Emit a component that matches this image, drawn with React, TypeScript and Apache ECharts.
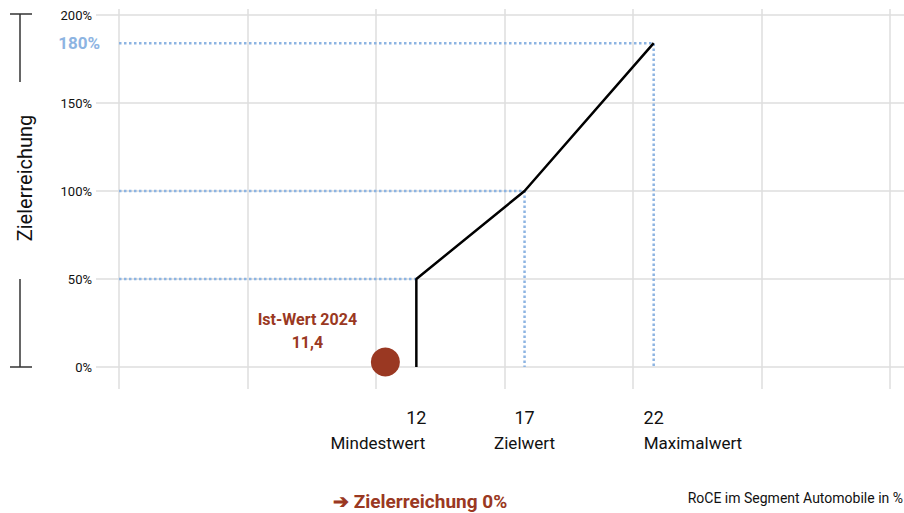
import React, { useEffect, useRef } from "react";
import * as echarts from "echarts";

// Schematic x-axis positions (grid columns 0..6) of the threshold marks
const thresholdValues = ["12", "17", "22"];
const thresholdNames = ["Mindestwert", "Zielwert", "Maximalwert"];
const thresholdPos = [2.314, 3.156, 4.161];
// achievement levels as plotted in the picture
const thresholdAchievement = [50, 100, 184];
const maxLabel = "180%";
const istValue = "11,4";
const istYear = "2024";
const istPos = 2.073;
const istAchievement = 0;
const yTicks = [0, 50, 100, 150, 200];

const FONT = "Roboto, 'Noto Sans', sans-serif";
const RED = "#9a3822";
const BLUE = "#8db4e2";
const GRID = "#dedede";

export default function App() {
  const ref = useRef<HTMLDivElement>(null);
  useEffect(() => {
    if (!ref.current) return;
    const chart = echarts.init(ref.current, undefined, { renderer: "svg" });

    const curve = [
      [thresholdPos[0], 0],
      ...thresholdPos.map((p, i) => [p, thresholdAchievement[i]]),
    ];
    const dotted = thresholdPos.map((p, i) => {
      const pts: any[] = [
        [0, thresholdAchievement[i]],
        [p, thresholdAchievement[i]],
      ];
      if (i > 0) pts.push([p, 0]);
      return {
        type: "line",
        xAxisIndex: 0,
        yAxisIndex: 0,
        data: pts,
        symbol: "none",
        silent: true,
        lineStyle: { color: BLUE, width: 2.5, type: [2.5, 2.5] },
        z: 2,
      };
    });

    const wordAlign = ["right", "center", "left"];
    const wordOffset = [9, 0, -10];

    chart.setOption({
      animation: false,
      grid: [
        { left: 119, right: 14, top: 15, height: 352 },
        { left: 119, right: 14, top: 9, height: 380 },
      ],
      xAxis: [
        {
          gridIndex: 0,
          type: "value",
          min: 0,
          max: 6,
          interval: 1,
          axisLine: { show: false },
          axisTick: { show: false },
          axisLabel: { show: false },
          splitLine: { show: false },
        },
        {
          gridIndex: 1,
          type: "value",
          min: 0,
          max: 6,
          interval: 1,
          axisLine: { show: false },
          axisTick: { show: false },
          axisLabel: { show: false },
          splitLine: { show: true, lineStyle: { color: GRID, width: 1.5 } },
        },
      ],
      yAxis: [
        {
          gridIndex: 0,
          type: "value",
          min: yTicks[0],
          max: yTicks[yTicks.length - 1],
          interval: 50,
          axisLine: { show: false },
          axisTick: { show: true, length: 23, lineStyle: { color: GRID, width: 1.5 } },
          axisLabel: {
            margin: 27,
            formatter: "{value}%",
            color: "#111",
            fontFamily: FONT,
            fontSize: 13,
          },
          splitLine: { show: true, lineStyle: { color: GRID, width: 1.5 } },
        },
        {
          gridIndex: 0,
          type: "value",
          position: "right",
          min: yTicks[0],
          max: yTicks[yTicks.length - 1],
          interval: 50,
          axisLine: { show: false },
          axisTick: { show: true, length: 14, lineStyle: { color: GRID, width: 1.5 } },
          axisLabel: { show: false },
          splitLine: { show: false },
        },
        {
          gridIndex: 1,
          type: "value",
          min: 0,
          max: 1,
          show: false,
          splitLine: { show: false },
        },
      ],
      series: [
        ...dotted,
        {
          type: "scatter",
          xAxisIndex: 0,
          yAxisIndex: 0,
          data: [[0, thresholdAchievement[2]]],
          symbolSize: 0,
          silent: true,
          clip: false,
          itemStyle: { opacity: 1 },
          label: {
            show: true,
            position: "left",
            distance: 19,
            formatter: () => maxLabel,
            color: BLUE,
            fontFamily: FONT,
            fontWeight: "bold",
            fontSize: 17,
          },
        },
        {
          type: "line",
          xAxisIndex: 0,
          yAxisIndex: 0,
          data: curve,
          symbol: "none",
          silent: true,
          lineStyle: { color: "#000", width: 2.5 },
          z: 3,
        },
        {
          type: "scatter",
          xAxisIndex: 0,
          yAxisIndex: 0,
          data: [[istPos, istAchievement]],
          symbol: "circle",
          symbolSize: 29,
          symbolOffset: [0, -5],
          clip: false,
          itemStyle: { color: RED, opacity: 1 },
          label: {
            show: true,
            position: "top",
            distance: 0,
            offset: [-78, 6],
            formatter: () => `Ist-Wert ${istYear}\n${istValue}`,
            color: RED,
            fontFamily: FONT,
            fontWeight: "bold",
            fontSize: 16,
            lineHeight: 23,
            align: "center",
          },
          z: 4,
        },
        {
          type: "scatter",
          xAxisIndex: 0,
          yAxisIndex: 0,
          data: thresholdPos.map((p) => [p, 0]),
          symbolSize: 0,
          silent: true,
          clip: false,
          itemStyle: { opacity: 1 },
          label: {
            show: true,
            position: "bottom",
            distance: 41,
            formatter: (pp: any) => thresholdValues[pp.dataIndex],
            color: "#111",
            fontFamily: FONT,
            fontSize: 18,
            align: "center",
          },
        },
        {
          type: "scatter",
          xAxisIndex: 0,
          yAxisIndex: 0,
          data: thresholdPos.map((p, i) => ({
            value: [p, 0],
            label: { align: wordAlign[i], offset: [wordOffset[i], 0] },
          })),
          symbolSize: 0,
          silent: true,
          clip: false,
          itemStyle: { opacity: 1 },
          label: {
            show: true,
            position: "bottom",
            distance: 67,
            formatter: (pp: any) => thresholdNames[pp.dataIndex],
            color: "#111",
            fontFamily: FONT,
            fontSize: 17,
          },
        },
      ],
      graphic: [
        { type: "line", shape: { x1: 20, y1: 14, x2: 20, y2: 82 }, style: { stroke: "#333", lineWidth: 1.5 } },
        { type: "line", shape: { x1: 10, y1: 14, x2: 32, y2: 14 }, style: { stroke: "#333", lineWidth: 1.5 } },
        { type: "line", shape: { x1: 20, y1: 279, x2: 20, y2: 367 }, style: { stroke: "#333", lineWidth: 1.5 } },
        { type: "line", shape: { x1: 10, y1: 367, x2: 32, y2: 367 }, style: { stroke: "#333", lineWidth: 1.5 } },
        {
          type: "text",
          x: 25,
          y: 178,
          rotation: Math.PI / 2,
          style: {
            text: "Zielerreichung",
            fill: "#111",
            font: `20px ${FONT}`,
            align: "center",
            verticalAlign: "middle",
          },
        },
        {
          type: "text",
          x: 333,
          y: 501,
          style: {
            text: "➔ Zielerreichung 0%",
            fill: RED,
            font: `bold 19px ${FONT}`,
            align: "left",
            verticalAlign: "middle",
          },
        },
        {
          type: "text",
          x: 903,
          y: 498,
          style: {
            text: "RoCE im Segment Automobile in %",
            fill: "#111",
            font: `14px ${FONT}`,
            align: "right",
            verticalAlign: "middle",
          },
        },
      ],
    });
    return () => chart.dispose();
  }, []);
  return <div ref={ref} style={{ width: 904, height: 513, position: "absolute", left: 0, top: 0 }} />;
}
